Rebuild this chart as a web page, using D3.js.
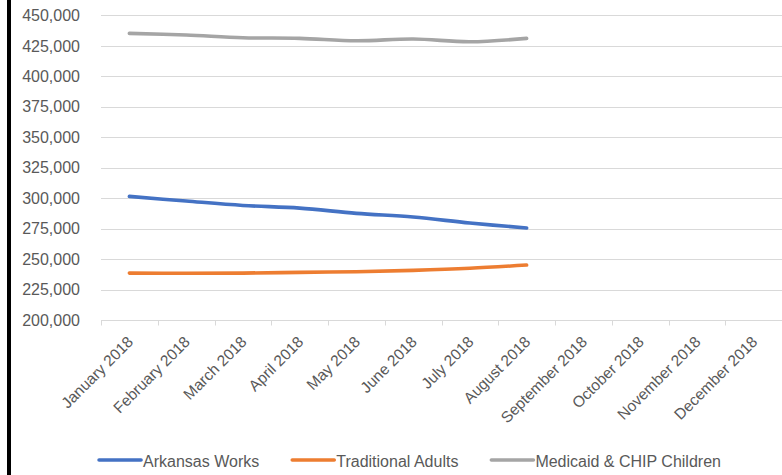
<!DOCTYPE html>
<html>
<head>
<meta charset="utf-8">
<script src="https://cdn.jsdelivr.net/npm/d3@7"></script>
<style>
  body { margin: 0; background: #fff; }
  text { font-family: "Liberation Sans", Arial, sans-serif; fill: #595959; }
</style>
</head>
<body>
<div class="container"></div>
<script>
// chart data
const months = ["January 2018", "February 2018", "March 2018", "April 2018", "May 2018", "June 2018",
  "July 2018", "August 2018", "September 2018", "October 2018", "November 2018", "December 2018"];
const arkansasWorks = [301400, 297600, 294000, 291800, 287500, 284500, 279600, 275500];
const traditionalAdults = [238500, 238300, 238500, 239100, 239600, 240700, 242400, 245100];
const medicaidChip = [435200, 433800, 431600, 431100, 429100, 430500, 428300, 431100];
const yTicks = [200000, 225000, 250000, 275000, 300000, 325000, 350000, 375000, 400000, 425000, 450000];
const seriesNames = ["Arkansas Works", "Traditional Adults", "Medicaid & CHIP Children"];
const seriesColors = ["#4472C4", "#ED7D31", "#A5A5A5"];

const width = 782;
const height = 475;
const margin = { top: 15.3, right: 0, bottom: 155, left: 101 };

const svg = d3.select(".container")
  .append("svg")
  .attr("width", width)
  .attr("height", height);

// black edge on the left of the picture
svg.append("rect")
  .attr("x", 7).attr("y", 0)
  .attr("width", 4).attr("height", height)
  .attr("fill", "#000");

const x = d3.scaleBand()
  .domain(months)
  .range([margin.left, width - margin.right]);

const y = d3.scaleLinear()
  .domain([200000, 450000])
  .range([320, margin.top]);

// gridlines
svg.append("g")
  .selectAll("line")
  .data(yTicks.filter(d => d > 200000))
  .enter()
  .append("line")
  .attr("x1", margin.left)
  .attr("x2", width - margin.right)
  .attr("y1", d => Math.round(y(d)) + 0.5)
  .attr("y2", d => Math.round(y(d)) + 0.5)
  .attr("stroke", "#D9D9D9")
  .attr("stroke-width", 1);

// y axis labels
svg.append("g")
  .selectAll("text")
  .data(yTicks)
  .enter()
  .append("text")
  .attr("x", 80)
  .attr("y", d => y(d))
  .attr("dy", "0.36em")
  .attr("text-anchor", "end")
  .style("font-size", "16px")
  .text(d => d3.format(",")(d));

// x axis line and ticks
const axisY = Math.round(y(200000)) + 0.5;
svg.append("line")
  .attr("x1", margin.left).attr("x2", width - margin.right)
  .attr("y1", axisY).attr("y2", axisY)
  .attr("stroke", "#D9D9D9");

const tickXs = months.map(m => x(m)).concat([width - margin.right]);
svg.append("g")
  .selectAll("line")
  .data(tickXs)
  .enter()
  .append("line")
  .attr("x1", d => Math.round(d) + 0.5)
  .attr("x2", d => Math.round(d) + 0.5)
  .attr("y1", axisY)
  .attr("y2", axisY + 5)
  .attr("stroke", "#D9D9D9");

// rotated month labels
svg.append("g")
  .selectAll("text")
  .data(months)
  .enter()
  .append("text")
  .attr("transform", d => `translate(${x(d) + x.bandwidth() / 2 + 1}, 339) rotate(-45)`)
  .attr("dy", "0.35em")
  .attr("text-anchor", "end")
  .style("font-size", "15.5px")
  .text(d => d);

// the three smooth lines
const line = d3.line()
  .x((d, i) => x(months[i]) + x.bandwidth() / 2)
  .y(d => y(d))
  .curve(d3.curveCatmullRom);

[arkansasWorks, traditionalAdults, medicaidChip].forEach((values, i) => {
  svg.append("path")
    .datum(values)
    .attr("d", line)
    .attr("fill", "none")
    .attr("stroke", seriesColors[i])
    .attr("stroke-width", 3.6)
    .attr("stroke-linecap", "round")
    .attr("stroke-linejoin", "round");
});

// legend, laid out from measured text widths and centred
const legend = svg.append("g");
const items = seriesNames.map((name, i) => {
  const g = legend.append("g");
  g.append("line")
    .attr("x1", 0).attr("x2", 42)
    .attr("y1", 460).attr("y2", 460)
    .attr("stroke", seriesColors[i])
    .attr("stroke-width", 3.6)
    .attr("stroke-linecap", "round");
  const t = g.append("text")
    .attr("x", 44)
    .attr("y", 461)
    .attr("dy", "0.36em")
    .style("font-size", "16px")
    .text(name);
  return { g, w: 44 + t.node().getComputedTextLength() };
});
const gap = 33;
const total = d3.sum(items, d => d.w) + gap * (items.length - 1);
let cursor = 410 - total / 2;
items.forEach(it => {
  it.g.attr("transform", `translate(${cursor}, 0)`);
  cursor += it.w + gap;
});
</script>
</body>
</html>
